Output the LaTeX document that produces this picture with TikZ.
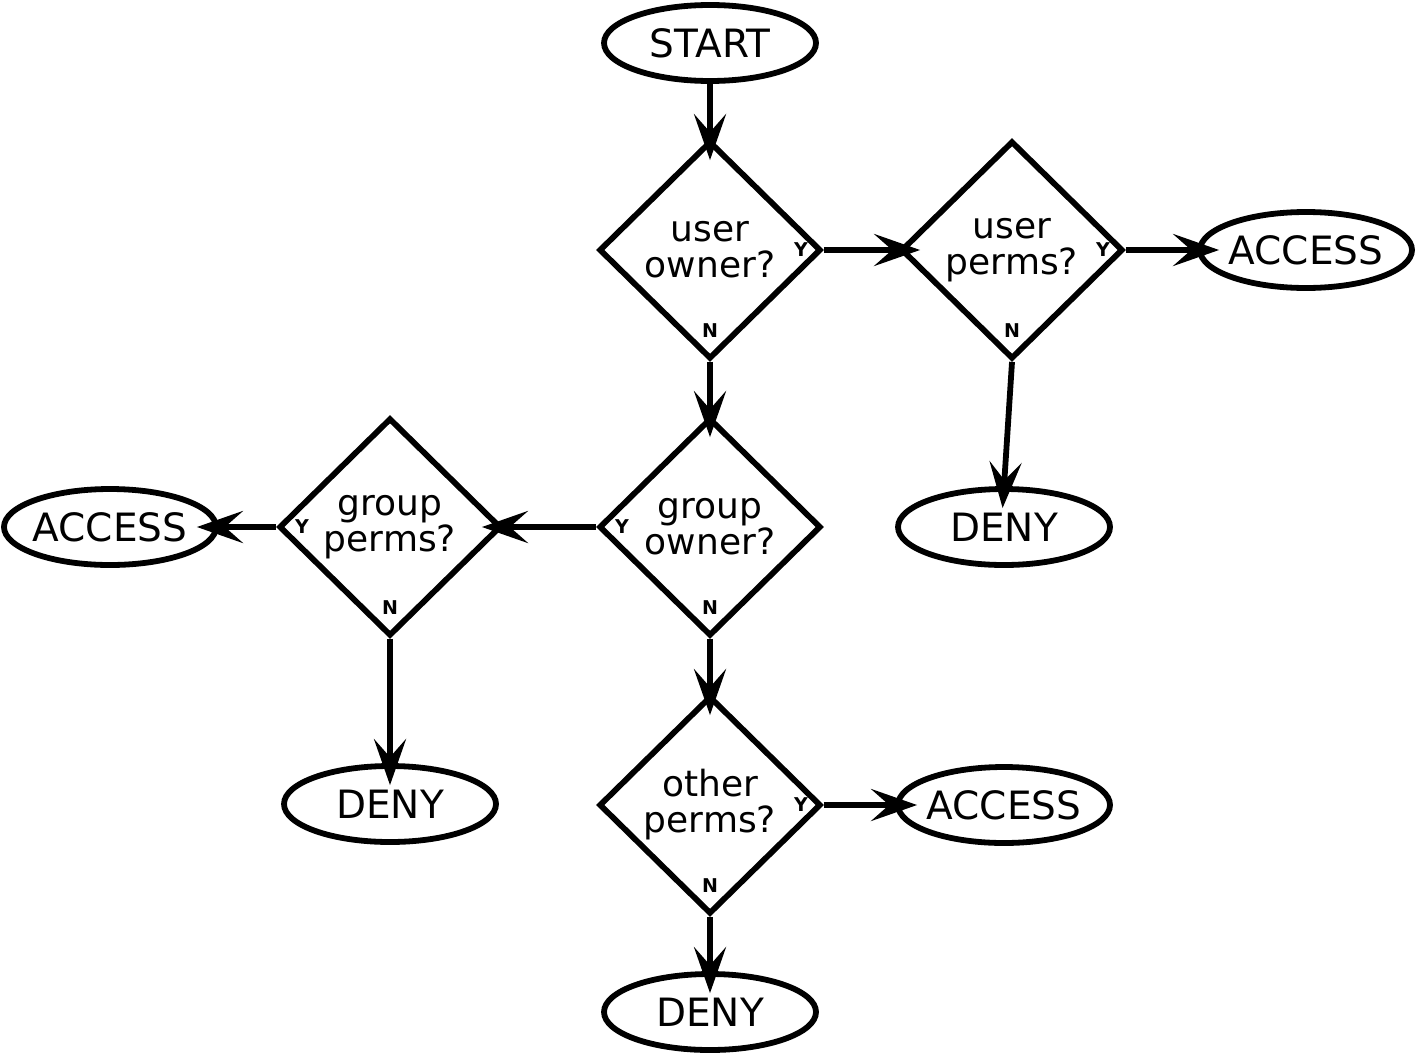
\documentclass[tikz,border=0pt]{standalone}
\usepackage{fontspec}
\setmainfont{DejaVu Sans}
\usetikzlibrary{shapes.geometric,arrows.meta}
\begin{document}
\begin{tikzpicture}[x=0.5pt,y=-0.5pt,
  line width=2.9pt,
  term/.style={ellipse,draw,inner sep=0pt,minimum width=106pt,minimum height=38pt},
  termtext/.style={font=\fontsize{19.5}{18}\selectfont},
  dec/.style={diamond,draw,inner sep=0pt,minimum width=111pt,minimum height=109pt,
    align=center,font=\fontsize{18}{18}\selectfont},
  yn/.style={font=\bfseries\fontsize{9.5}{10}\selectfont,inner sep=0pt},
  arr/.style={-{Stealth[length=23pt,width=16pt,inset=9pt]},shorten >=-11pt,line join=miter}
]
\useasboundingbox (0,0) rectangle (1416,1054);

\node[term,label={[termtext]center:START}] (start) at (710,43) {};
\node[dec] (d1) at (710,250) {user\\owner?};
\node[dec] (d2) at (1012,250) {user\\perms?};
\node[term,label={[termtext]center:ACCESS}] (acc1) at (1306,250) {};
\node[term,label={[termtext]center:DENY}] (deny1) at (1004,527) {};
\node[dec] (d3) at (710,527) {group\\owner?};
\node[dec] (d4) at (390,527) {group\\perms?};
\node[term,label={[termtext]center:ACCESS}] (acc2) at (110,527) {};
\node[term,label={[termtext]center:DENY}] (deny2) at (390,804) {};
\node[dec] (d5) at (710,805) {other\\perms?};
\node[term,label={[termtext]center:ACCESS}] (acc3) at (1004,805) {};
\node[term,label={[termtext]center:DENY}] (deny3) at (710,1012) {};

% Y / N labels
\node[yn] (y1) at ([xshift=-11.5pt]d1.east) {Y};
\node[yn] (n1) at ([yshift=15.5pt]d1.south) {N};
\node[yn] (y2) at ([xshift=-11.5pt]d2.east) {Y};
\node[yn] (n2) at ([yshift=15.5pt]d2.south) {N};
\node[yn] (y3) at ([xshift=13pt]d3.west) {Y};
\node[yn] (n3) at ([yshift=15.5pt]d3.south) {N};
\node[yn] (y4) at ([xshift=13pt]d4.west) {Y};
\node[yn] (n4) at ([yshift=15.5pt]d4.south) {N};
\node[yn] (y5) at ([xshift=-11.5pt]d5.east) {Y};
\node[yn] (n5) at ([yshift=15.5pt]d5.south) {N};

% connectors
\draw[arr] (start.south) -- (d1.north);
\draw[arr] (d1.east) -- (d2.west);
\draw[arr] (d2.east) -- (acc1.west);
\draw[arr] (d2.south) -- (deny1.north);
\draw[arr] (d1.south) -- (d3.north);
\draw[arr] (d3.west) -- (d4.east);
\draw[arr] (d4.west) -- (acc2.east);
\draw[arr] (d4.south) -- (deny2.north);
\draw[arr] (d3.south) -- (d5.north);
\draw[arr] (d5.east) -- (acc3.west);
\draw[arr] (d5.south) -- (deny3.north);
\end{tikzpicture}
\end{document}
